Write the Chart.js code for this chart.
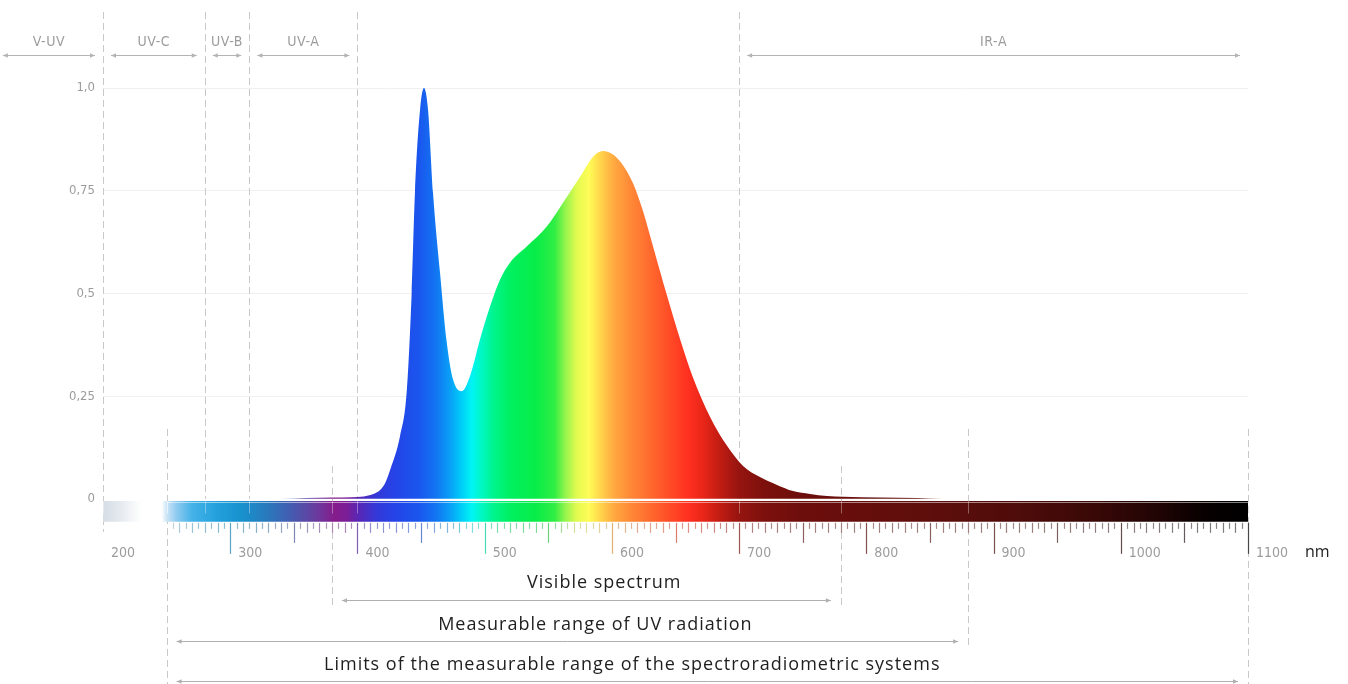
<!DOCTYPE html>
<html>
<head>
<meta charset="utf-8">
<script src="https://cdn.jsdelivr.net/npm/chart.js@4.4.1/dist/chart.umd.min.js"></script>
<style>
  html, body { margin: 0; padding: 0; background: #ffffff; }
  #wrap { width: 1348px; height: 684px; position: relative; }
</style>
</head>
<body>
<div id="wrap"><canvas id="c"></canvas></div>
<script>
// ---------------- DATA ----------------
const X_MIN = 200, X_MAX = 1100;                 // wavelength axis range (nm)
const wavelengths = [340, 360, 380, 395, 405, 412, 418, 422, 426, 433.5, 438.7, 442.6, 445.2, 449.2, 452.3, 455.5, 459.4, 464.9, 470.2, 475.1, 482, 488.5, 496.3, 504.2, 512.1, 519.9, 533, 548.8, 561.6, 575, 585.2, 593, 600.9, 608.7, 616.6, 624.5, 632.3, 643.3, 653.5, 663.8, 677.1, 690.5, 703.1, 716.4, 729.8, 742.4, 755.7, 769.1, 781.7, 810, 840, 860];
const intensities = [0, 0.002, 0.003, 0.004, 0.006, 0.011, 0.022, 0.04, 0.073, 0.153, 0.26, 0.50, 0.745, 0.947, 1.0, 0.947, 0.745, 0.551, 0.381, 0.291, 0.262, 0.299, 0.388, 0.468, 0.534, 0.575, 0.614, 0.663, 0.721, 0.784, 0.833, 0.847, 0.838, 0.812, 0.768, 0.70, 0.615, 0.495, 0.39, 0.295, 0.2, 0.129, 0.080, 0.053, 0.034, 0.019, 0.012, 0.007, 0.005, 0.003, 0.002, 0];

const xTickValues = [200, 300, 400, 500, 600, 700, 800, 900, 1000, 1100];
const xTickLabels = ['200', '300', '400', '500', '600', '700', '800', '900', '1000', '1100'];
const yTickValues = [0, 0.25, 0.5, 0.75, 1.0];
const yTickLabels = ['0', '0,25', '0,5', '0,75', '1,0'];
const xUnit = 'nm';

// spectral bands along the top
const bandNames = ['V-UV', 'UV-C', 'UV-B', 'UV-A', 'IR-A'];
const bandFrom  = [115, 200, 280, 315, 700];
const bandTo    = [200, 280, 315, 400, 1100];
const guideTopNm = [200, 280, 315, 400, 700];

// measurement ranges along the bottom
const rangeNames = ['Visible spectrum', 'Measurable range of UV radiation', 'Limits of the measurable range of the spectroradiometric systems'];
const rangeFrom  = [380, 250, 250];
const rangeTo    = [780, 880, 1100];
const rangeLabelNm = [594, 587, 616];

// ---------------- STYLE ----------------
const Y_MIN = -0.06, Y_MAX = 1.05;
const BAR_TOP = -0.005, BAR_BOTTOM = -0.056;     // colour bar under the baseline (in y units)
const TICK_START = 255;
const NARROW = '"Liberation Sans Narrow", "Arial Narrow", "DejaVu Sans Condensed", sans-serif';
const SANS = '"Open Sans", "Noto Sans", sans-serif';
const GUIDE_COLOR = '#c9c9c9';
const GUIDE_TOP_START = 12;
const rangeLineY = [600, 641, 681];
const rangeTextY = [583, 625, 665];
const rangeGuideTop = [0.08, 0.17, 0.17];
const BAND_LINE_Y = 55, BAND_TEXT_Y = 42;

const spectrumStops = [
  [200, '#d6dde5'], [212, '#e3e8ee'], [224, '#f5f7f9'], [230, '#ffffff'], [246, '#ffffff'],
  [250, '#cde5f6'], [258, '#8ccaf0'], [270, '#45b2e8'], [290, '#22a0dc'], [310, '#1890cc'],
  [330, '#2a78bc'], [350, '#4858ae'], [368, '#6a3a9e'], [382, '#861c8c'], [392, '#7a1e98'],
  [402, '#5428b8'], [415, '#3438d8'], [430, '#2444e8'], [448, '#1a56ee'], [462, '#1276f2'],
  [472, '#0a9cf6'], [482, '#00cef8'], [490, '#00f4f4'], [498, '#00f8c0'], [508, '#00f488'],
  [520, '#00f060'], [540, '#08ec48'], [555, '#30ee44'], [563, '#90f44c'], [572, '#e0fa50'],
  [582, '#fffc56'], [592, '#ffd04a'], [602, '#ffa840'], [615, '#ff8836'], [630, '#ff6a2e'],
  [645, '#ff4c26'], [660, '#ff3020'], [672, '#e82618'], [685, '#c01c12'], [700, '#961410'],
  [720, '#7c100c'], [750, '#6c0e0c'], [850, '#5e0e0c'], [920, '#4e0c0a'], [980, '#380806'],
  [1030, '#200404'], [1065, '#080000'], [1100, '#000000']
];

function hexToRgb(h) { return [parseInt(h.slice(1, 3), 16), parseInt(h.slice(3, 5), 16), parseInt(h.slice(5, 7), 16)]; }
function colorAt(nm) {
  for (let i = 0; i < spectrumStops.length - 1; i++) {
    const [a, ca] = spectrumStops[i], [b, cb] = spectrumStops[i + 1];
    if (nm >= a && nm <= b) {
      const t = (nm - a) / (b - a), A = hexToRgb(ca), B = hexToRgb(cb);
      return A.map((v, k) => v + (B[k] - v) * t);
    }
  }
  return [0, 0, 0];
}
function mixCss(c, g, t) { return 'rgb(' + c.map((v, k) => Math.round(v * (1 - t) + g[k] * t)).join(',') + ')'; }

function spectrumGradient(chart) {
  const { ctx, chartArea, scales } = chart;
  if (!chartArea) return 'transparent';
  const x0 = scales.x.getPixelForValue(X_MIN), x1 = scales.x.getPixelForValue(X_MAX);
  const g = ctx.createLinearGradient(x0, 0, x1, 0);
  spectrumStops.forEach(([nm, c]) => g.addColorStop((nm - X_MIN) / (X_MAX - X_MIN), c));
  return g;
}

function arrow(ctx, x1, x2, y) {
  ctx.beginPath(); ctx.moveTo(x1, y); ctx.lineTo(x2, y); ctx.stroke();
  const h = 5, w = 2.2;
  ctx.beginPath(); ctx.moveTo(x1, y); ctx.lineTo(x1 + h, y - w); ctx.lineTo(x1 + h, y + w); ctx.closePath(); ctx.fill();
  ctx.beginPath(); ctx.moveTo(x2, y); ctx.lineTo(x2 - h, y - w); ctx.lineTo(x2 - h, y + w); ctx.closePath(); ctx.fill();
}

const annotPlugin = {
  id: 'annot',
  beforeDatasetsDraw(chart) {
    const { ctx } = chart, xs = chart.scales.x, ys = chart.scales.y;
    ctx.save();
    ctx.strokeStyle = GUIDE_COLOR; ctx.lineWidth = 1; ctx.setLineDash([7, 4]);
    const vline = (nm, yA, yB) => {
      const p = Math.round(xs.getPixelForValue(nm)) + 0.5;
      ctx.beginPath(); ctx.moveTo(p, yA); ctx.lineTo(p, yB); ctx.stroke();
    };
    guideTopNm.forEach(nm => {
      const yEnd = nm === X_MIN ? ys.getPixelForValue(BAR_BOTTOM) + 10 : ys.getPixelForValue(0);
      vline(nm, GUIDE_TOP_START, yEnd);
    });
    rangeFrom.forEach((f, i) => {
      [f, rangeTo[i]].forEach(nm => vline(nm, ys.getPixelForValue(rangeGuideTop[i]), rangeLineY[i] + 7));
    });
    ctx.restore();
  },
  afterDatasetsDraw(chart) {
    const { ctx } = chart, xs = chart.scales.x, ys = chart.scales.y;
    const px = nm => xs.getPixelForValue(nm);
    const barTop = ys.getPixelForValue(BAR_TOP), barBot = ys.getPixelForValue(BAR_BOTTOM);
    ctx.save();
    // light line on top of the colour bar
    ctx.strokeStyle = 'rgba(255,255,255,0.5)'; ctx.lineWidth = 1;
    ctx.beginPath(); ctx.moveTo(px(250), Math.round(barTop) + 1.5); ctx.lineTo(px(X_MAX), Math.round(barTop) + 1.5); ctx.stroke();
    // guide marks inside the bar
    ctx.strokeStyle = 'rgba(255,255,255,0.35)';
    guideTopNm.concat(rangeFrom, rangeTo).forEach(nm => {
      const p = Math.round(px(nm)) + 0.5;
      ctx.beginPath(); ctx.moveTo(p, barTop); ctx.lineTo(p, barTop + (barBot - barTop) * 0.6); ctx.stroke();
    });
    // ruler ticks below the bar
    const gray = [180, 180, 180], light = [205, 205, 205];
    for (let nm = TICK_START; nm <= X_MAX; nm += 5) {
      let len, col;
      const c = colorAt(nm);
      if (nm % 100 === 0) { len = 31; col = mixCss(c, gray, 0.4); }
      else if (nm % 50 === 0) { len = 20; col = mixCss(c, gray, 0.5); }
      else if (nm % 10 === 0) { len = 10; col = mixCss(c, light, 0.6); }
      else { len = 6; col = mixCss(c, light, 0.65); }
      const p = Math.round(px(nm)) + 0.5;
      ctx.strokeStyle = col; ctx.lineWidth = 1.2;
      ctx.beginPath(); ctx.moveTo(p, barBot + 1); ctx.lineTo(p, barBot + 1 + len); ctx.stroke();
    }
    // unit label
    ctx.fillStyle = '#222'; ctx.font = '16px ' + SANS; ctx.textAlign = 'left'; ctx.textBaseline = 'middle';
    ctx.fillText(xUnit, px(X_MAX) + 57, 552);
    // top bands
    ctx.strokeStyle = '#b4b4b4'; ctx.fillStyle = '#b4b4b4'; ctx.lineWidth = 1;
    bandNames.forEach((name, i) => {
      const a = px(bandFrom[i]) + 8, b = px(bandTo[i]) - 8;
      arrow(ctx, a, b, BAND_LINE_Y + 0.5);
    });
    ctx.fillStyle = '#9c9c9c'; ctx.font = '14px ' + NARROW; ctx.textAlign = 'center';
    if ('letterSpacing' in ctx) ctx.letterSpacing = '0.6px';
    bandNames.forEach((name, i) => {
      ctx.fillText(name, (px(bandFrom[i]) + px(bandTo[i])) / 2, BAND_TEXT_Y);
    });
    // bottom ranges
    ctx.strokeStyle = '#b0b0b0'; ctx.fillStyle = '#b0b0b0';
    rangeNames.forEach((name, i) => {
      arrow(ctx, px(rangeFrom[i]) + 10, px(rangeTo[i]) - 10, rangeLineY[i] + 0.5);
    });
    ctx.fillStyle = '#1e1e1e'; ctx.font = '18px ' + SANS;
    if ('letterSpacing' in ctx) ctx.letterSpacing = '1px';
    rangeNames.forEach((name, i) => {
      ctx.fillText(name, px(rangeLabelNm[i]), rangeTextY[i]);
    });
    ctx.restore();
  }
};

new Chart(document.getElementById('c'), {
  type: 'line',
  data: {
    datasets: [
      {
        label: 'Relative spectral intensity',
        data: wavelengths.map((w, i) => ({ x: w, y: intensities[i] })),
        fill: 'origin',
        backgroundColor: ctx => spectrumGradient(ctx.chart),
        borderColor: 'transparent', borderWidth: 0,
        pointRadius: 0, cubicInterpolationMode: 'monotone'
      },
      {
        label: 'bar-top',
        data: [{ x: X_MIN, y: BAR_TOP }, { x: X_MAX, y: BAR_TOP }],
        fill: '+1',
        backgroundColor: ctx => spectrumGradient(ctx.chart),
        borderColor: 'transparent', borderWidth: 0, pointRadius: 0
      },
      {
        label: 'bar-bottom',
        data: [{ x: X_MIN, y: BAR_BOTTOM }, { x: X_MAX, y: BAR_BOTTOM }],
        fill: false,
        borderColor: 'transparent', borderWidth: 0, pointRadius: 0
      }
    ]
  },
  options: {
    responsive: true, maintainAspectRatio: false, animation: false,
    layout: { padding: { left: 0, right: 100, top: 67.5, bottom: 115.5 } },
    plugins: { legend: { display: false }, tooltip: { enabled: false } },
    scales: {
      x: {
        type: 'linear', min: X_MIN, max: X_MAX,
        afterBuildTicks: s => { s.ticks = xTickValues.map(v => ({ value: v })); },
        afterFit: s => { s.height = 45; },
        grid: { display: false, drawTicks: false },
        border: { display: false },
        ticks: {
          align: 'start', padding: 21, color: '#9c9c9c', autoSkip: false, maxRotation: 0,
          font: { family: NARROW, size: 14 },
          callback: v => { const i = xTickValues.indexOf(v); return i >= 0 ? '  ' + xTickLabels[i] : ''; }
        }
      },
      y: {
        type: 'linear', min: Y_MIN, max: Y_MAX,
        afterBuildTicks: s => { s.ticks = yTickValues.map(v => ({ value: v })); },
        afterFit: s => { s.width = 103; },
        grid: { drawTicks: false, color: c => (c.tick && c.tick.value === 0) ? 'rgba(0,0,0,0)' : '#f0f0f0' },
        border: { display: false },
        ticks: {
          padding: 8, color: '#9c9c9c',
          font: { family: NARROW, size: 13 },
          callback: v => { const i = yTickValues.indexOf(v); return i >= 0 ? yTickLabels[i] : ''; }
        }
      }
    }
  },
  plugins: [annotPlugin]
});
</script>
</body>
</html>
